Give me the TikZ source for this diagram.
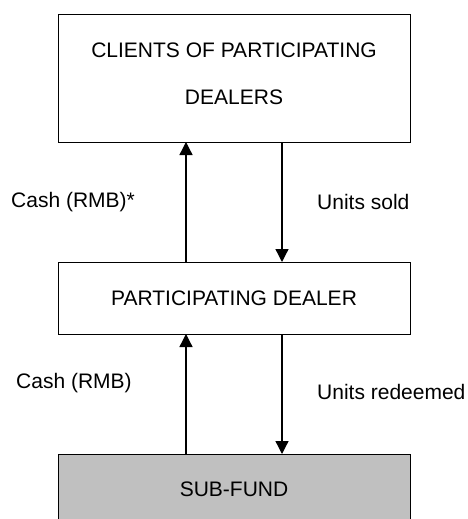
\documentclass[tikz,border=0pt]{standalone}
\usepackage{fontspec}
\setmainfont{Liberation Sans}
\usetikzlibrary{arrows.meta}
\definecolor{fundgray}{HTML}{C0C0C0}
\begin{document}
\begin{tikzpicture}[x=1pt,y=-1pt,
  box/.style={draw=black,line width=1.3pt,minimum width=352pt,inner sep=0pt,anchor=north west},
  lbl/.style={font=\fontsize{21}{25}\selectfont,inner sep=0pt},
  flow/.style={line width=1.3pt,-{Triangle[width=13pt,length=13pt]}}]
\useasboundingbox (0,0) rectangle (468,519);
\clip (0,0) rectangle (468,519);
\node[box,minimum height=128pt] (clients) at (58,14) {};
\node[lbl] at (234,50) {CLIENTS OF PARTICIPATING};
\node[lbl] (clientsb) at (234,97) {DEALERS};
\node[box,minimum height=72pt] (dealer) at (58,262) {};
\node[lbl] at (234,298) {PARTICIPATING DEALER};
\node[box,fill=fundgray,minimum height=90pt] (fund) at (58,454) {};
\node[lbl] at (234,489) {SUB-FUND};
\coordinate (c1) at (186,262);
\coordinate (c2) at (186,142);
\coordinate (u1) at (282,142);
\coordinate (u2) at (282,262);
\coordinate (c3) at (186,454);
\coordinate (c4) at (186,334);
\coordinate (u3) at (282,334);
\coordinate (u4) at (282,454);
\draw[flow] (c1) -- (c2);
\draw[flow] (u1) -- (u2);
\draw[flow] (c3) -- (c4);
\draw[flow] (u3) -- (u4);
\node[lbl,anchor=west] (l1) at (11,202) {Cash (RMB)*};
\node[lbl,anchor=west] (l2) at (317,202) {Units sold};
\node[lbl,anchor=west] (l3) at (16,383) {Cash (RMB)};
\node[lbl,anchor=west] (l4) at (317,392) {Units redeemed};
\end{tikzpicture}
\end{document}
